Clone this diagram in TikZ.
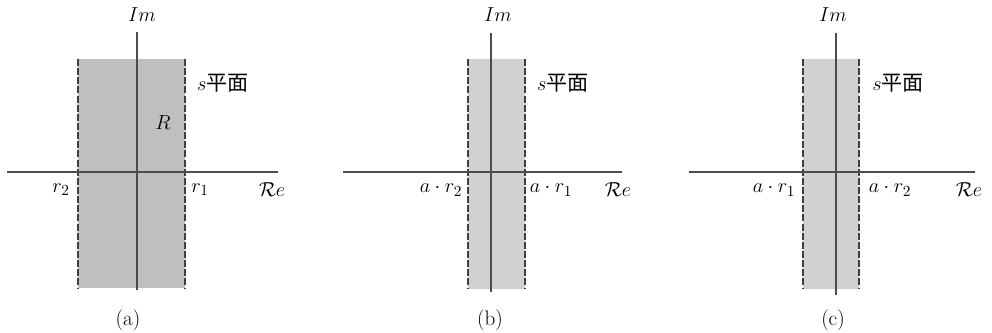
\documentclass[tikz,border=0pt]{standalone}
\usepackage{fontspec}
\newfontfamily\cjk{Noto Sans CJK SC}
\begin{document}
\begin{tikzpicture}[x=0.025cm,y=-0.025cm,
  axis/.style={black!70,line width=0.8pt},
  edge/.style={black!75,line width=1pt,dash pattern=on 5pt off 1.5pt},
  lbl/.style={inner sep=1pt,font=\fontsize{15}{18}\selectfont}]
 \useasboundingbox (0,0) rectangle (992,333);
 % (a)
 \fill[black!25] (78,59) rectangle (185,288);
 \draw[edge] (78,59)--(78,288); \draw[edge] (185,59)--(185,288);
 \draw[axis] (7,172)--(278,172);
 \draw[axis] (137,32)--(137,290);
 \node[lbl] (ima) at (142,15) {\(Im\)};
 \node[lbl] (rea) at (272,190) {\(\mathcal{R}e\)};
 \node[lbl] (r2a) at (61,190) {\(r_2\)};
 \node[lbl] (r1a) at (200,190) {\(r_1\)};
 \node[lbl] (roc) at (163,123) {\(R\)};
 \node[lbl] (sa) at (223,83) {\(s\)\cjk 平面};
 \node[lbl] (capa) at (128,320) {(a)};
 % (b)
 \fill[black!18] (468,59) rectangle (525,289);
 \draw[edge] (468,59)--(468,289); \draw[edge] (525,59)--(525,289);
 \draw[axis] (343,172)--(622,172);
 \draw[axis] (491,33)--(491,292);
 \node[lbl] (imb) at (498,15) {\(Im\)};
 \node[lbl] (reb) at (618,190) {\(\mathcal{R}e\)};
 \node[lbl] (r2b) at (441,190) {\(a\cdot r_2\)};
 \node[lbl] (r1b) at (551,190) {\(a\cdot r_1\)};
 \node[lbl] (sb) at (563,83) {\(s\)\cjk 平面};
 \node[lbl] (capb) at (490,320) {(b)};
 % (c)
 \fill[black!18] (803,59) rectangle (859,289);
 \draw[edge] (803,59)--(803,289); \draw[edge] (859,59)--(859,289);
 \draw[axis] (689,172)--(975,172);
 \draw[axis] (836,33)--(836,295);
 \node[lbl] (imc) at (833,15) {\(Im\)};
 \node[lbl] (rec) at (969,190) {\(\mathcal{R}e\)};
 \node[lbl] (r1c) at (774,190) {\(a\cdot r_1\)};
 \node[lbl] (r2c) at (890,190) {\(a\cdot r_2\)};
 \node[lbl] (sc) at (898,83) {\(s\)\cjk 平面};
 \node[lbl] (capc) at (833,320) {(c)};
\end{tikzpicture}
\end{document}
